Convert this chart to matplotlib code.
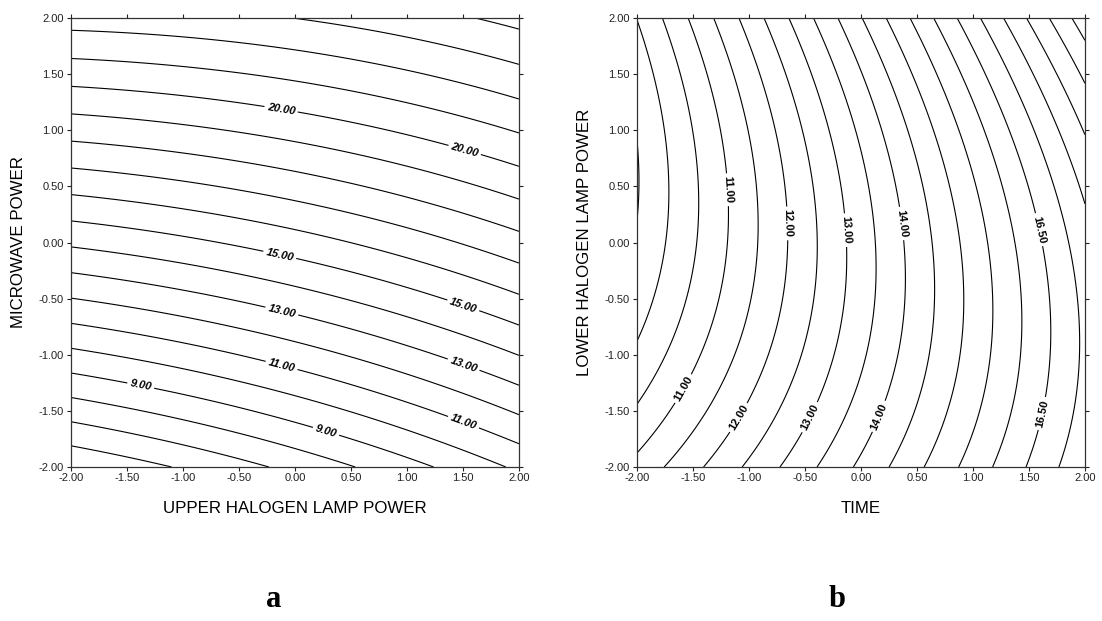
import numpy as np
import matplotlib.pyplot as plt

plt.rcParams['font.family'] = ['Liberation Sans', 'DejaVu Sans']

# quadratic response surface coefficients
# order: const, x, y, x^2, y^2, x*y
coef_a = [15.55, 0.87, 3.93, 0.09, -0.10, -0.20]
coef_b = [13.25, 1.94, 0.0925, 0.044, 0.26, 0.19]

levels_a = [5, 6, 7, 8, 9, 10, 11, 12, 13, 14, 15, 16, 17, 18, 19, 20,
            21, 22, 23, 24, 25]
levels_b = [9.5, 10, 10.5, 11, 11.5, 12, 12.5, 13, 13.5, 14, 14.5, 15,
            15.5, 16, 16.5, 17, 17.5, 18, 18.5, 19, 19.5, 20]

label_levels_a = [9, 11, 13, 15, 20]
label_levels_b = [11, 12, 13, 14, 16.5]

ticks = [-2.0, -1.5, -1.0, -0.5, 0.0, 0.5, 1.0, 1.5, 2.0]

xlabel_a = 'UPPER HALOGEN LAMP POWER'
ylabel_a = 'MICROWAVE POWER'
xlabel_b = 'TIME'
ylabel_b = 'LOWER HALOGEN LAMP POWER'


def surface(c, x, y):
    return c[0] + c[1]*x + c[2]*y + c[3]*x**2 + c[4]*y**2 + c[5]*x*y


g = np.linspace(-2, 2, 301)
X, Y = np.meshgrid(g, g)

fig = plt.figure(figsize=(11.02, 6.21), dpi=100)
ax1 = fig.add_axes([0.0644, 0.248, 0.4065, 0.723])
ax2 = fig.add_axes([0.578, 0.248, 0.4065, 0.723])

# label spots (data coords) where the labels sit in the original
pos_a = [(-0.12, 1.21), (1.52, 0.84), (-0.12, -0.04), (1.52, -0.51),
         (-0.11, -0.58), (1.52, -1.05), (-0.11, -1.06), (1.52, -1.56),
         (-1.37, -1.24), (0.29, -1.64)]
pos_b = [(-1.20, 0.47), (-1.59, -1.30), (-0.66, 0.17), (-1.11, -1.55),
         (-0.14, 0.11), (-0.47, -1.55), (0.37, 0.17), (0.14, -1.54),
         (1.57, 0.11), (1.60, -1.52)]

panels = [
    (ax1, coef_a, levels_a, label_levels_a, pos_a, xlabel_a, ylabel_a,
     'italic', -0.117),
    (ax2, coef_b, levels_b, label_levels_b, pos_b, xlabel_b, ylabel_b,
     'normal', -0.116),
]

for ax, c, lev, lab_lev, pos, xl, yl, style, ylx in panels:
    ax.set_xlim(-2, 2)
    ax.set_ylim(-2, 2)
    Z = surface(c, X, Y)
    plain = [v for v in lev if v not in lab_lev]
    ax.contour(X, Y, Z, levels=plain, colors='black', linewidths=0.8)
    cs = ax.contour(X, Y, Z, levels=lab_lev, colors='black', linewidths=0.8)
    txts = ax.clabel(cs, manual=pos, fmt='%.2f',
                     inline=True, inline_spacing=3, fontsize=8)
    for t in txts:
        t.set_fontweight('bold')
        t.set_fontstyle(style)
    ax.set_xticks(ticks)
    ax.set_yticks(ticks)
    ax.set_xticklabels(['%.2f' % t for t in ticks])
    ax.set_yticklabels(['%.2f' % t for t in ticks])
    ax.tick_params(direction='out', top=True, right=True, length=3,
                   width=0.8, labelsize=8, colors='#222222')
    ax.tick_params(axis='x', pad=1)
    ax.tick_params(axis='y', pad=2)
    for s in ax.spines.values():
        s.set_linewidth(0.9)
        s.set_color('#333333')
    ax.set_xlabel(xl, fontsize=12.2, va='center')
    ax.set_ylabel(yl, fontsize=12.2, va='center')
    ax.xaxis.set_label_coords(0.5, -0.092)
    ax.yaxis.set_label_coords(ylx, 0.5)

fig.text(0.248, 0.022, 'a', family='Liberation Serif', fontweight='bold',
         fontsize=22, ha='center', va='baseline')
fig.text(0.760, 0.022, 'b', family='Liberation Serif', fontweight='bold',
         fontsize=22, ha='center', va='baseline')

fig.savefig('out.png', dpi=100)
